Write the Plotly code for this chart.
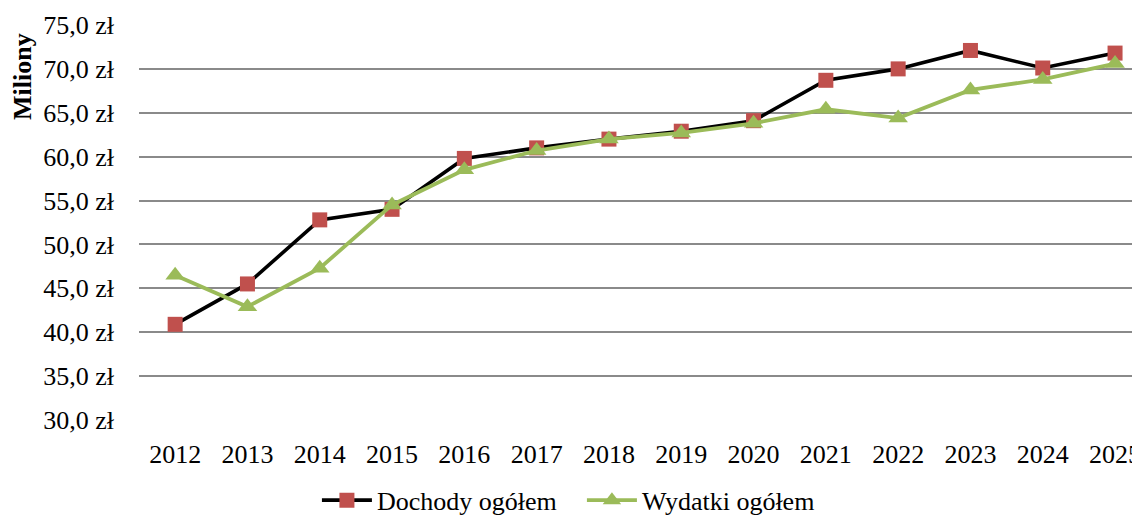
import plotly.graph_objects as go

years = [2012, 2013, 2014, 2015, 2016, 2017, 2018, 2019, 2020, 2021, 2022, 2023, 2024, 2025]
dochody = [40.9, 45.5, 52.8, 54.0, 59.8, 61.0, 62.0, 62.9, 64.1, 68.7, 70.0, 72.1, 70.1, 71.8]
wydatki = [46.5, 42.9, 47.3, 54.5, 58.5, 60.7, 62.0, 62.7, 63.8, 65.4, 64.4, 67.6, 68.8, 70.6]
y_ticks = [30, 35, 40, 45, 50, 55, 60, 65, 70, 75]
y_ticktext = ["30,0 zł", "35,0 zł", "40,0 zł", "45,0 zł", "50,0 zł", "55,0 zł",
              "60,0 zł", "65,0 zł", "70,0 zł", "75,0 zł"]
series_names = ["Dochody ogółem", "Wydatki ogółem"]

FONT = "Liberation Serif"

# page body has an 8px margin; figure is sized to fit the 1140x516 window
W, H = 1132, 508
L, T, B = 131, 17, 96
PW = W - L
PH = H - T - B

fig = go.Figure()
fig.add_trace(go.Scatter(
    x=years, y=dochody, name=series_names[0], mode="lines+markers",
    line=dict(color="#000000", width=3.6),
    marker=dict(symbol="square", size=15, color="#C0504D"),
    cliponaxis=False,
))
fig.add_trace(go.Scatter(
    x=years, y=wydatki, name=series_names[1], mode="lines+markers",
    line=dict(color="#9BBB59", width=3.8),
    marker=dict(symbol="triangle-up", size=17, color="#9BBB59"),
    cliponaxis=False,
))

fig.update_layout(
    width=W, height=H,
    margin=dict(l=L, r=0, t=T, b=B, autoexpand=False),
    paper_bgcolor="white", plot_bgcolor="white",
    font=dict(family=FONT, size=26, color="#000000"),
    showlegend=True,
    legend=dict(orientation="h", xref="container", yref="container",
                x=0.507, xanchor="center", y=0.031, yanchor="middle",
                font=dict(family=FONT, size=26), itemwidth=50,
                entrywidth=200, entrywidthmode="pixels",
                tracegroupgap=0),
    xaxis=dict(
        range=[2011.5, 2011.5 + PW / 72.3],
        tickvals=years, ticktext=[str(y) for y in years],
        showgrid=False, zeroline=False, showline=False,
        ticks="", ticklabelstandoff=16, automargin=False,
        ticklabeloverflow="allow",
        tickfont=dict(family=FONT, size=26),
    ),
    yaxis=dict(
        range=[30, 75], tickvals=y_ticks, ticktext=y_ticktext,
        showgrid=True, gridcolor="#8A8A8A", gridwidth=2,
        zeroline=False, showline=False, ticks="",
        ticklabelstandoff=24, automargin=False,
        tickfont=dict(family=FONT, size=26),
    ),
    annotations=[dict(
        text="<b>Miliony</b>", textangle=-90,
        xref="paper", yref="paper",
        x=(22 - 8 - L) / PW, y=(412 - (77 - 8)) / PH,
        xanchor="center", yanchor="middle", showarrow=False,
        font=dict(family=FONT, size=26),
    )],
)

fig.write_html("out.html")
